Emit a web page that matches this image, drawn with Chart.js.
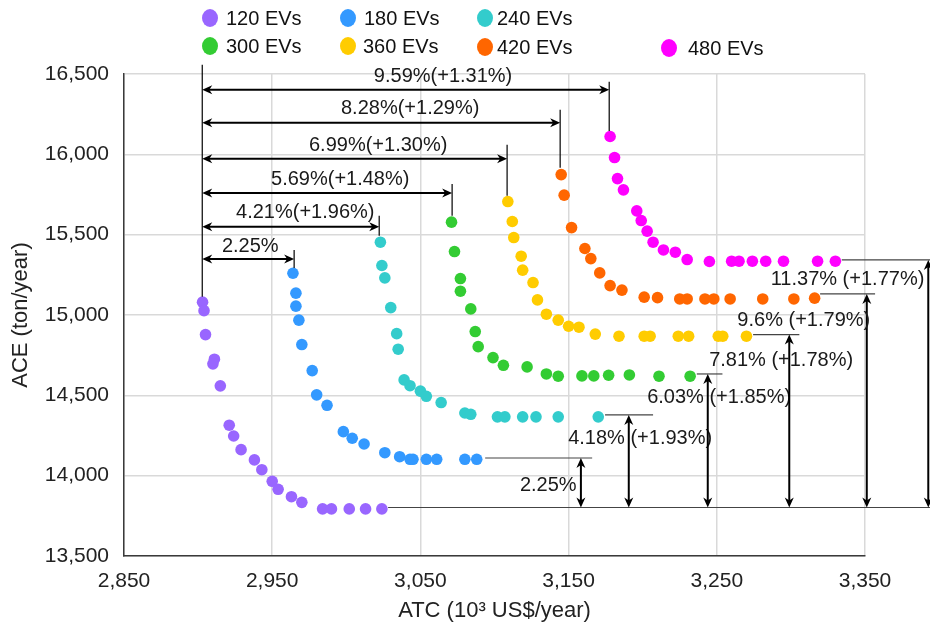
<!DOCTYPE html>
<html><head><meta charset="utf-8">
<script src="https://cdn.jsdelivr.net/npm/chart.js@4.4.1/dist/chart.umd.min.js"></script>
<style>html,body{margin:0;padding:0;background:#fff}#wrap{width:930px;height:627px;position:relative}</style>
</head><body><div id="wrap"><canvas id="c" width="930" height="627"></canvas></div>
<script>
// ---------- data ----------
const seriesLabels = ['120 EVs','180 EVs','240 EVs','300 EVs','360 EVs','420 EVs','480 EVs'];
const seriesColors = ['#9966FF','#3399FF','#33CCCC','#33CC33','#FFCC00','#FF6600','#FF00FF'];

const x120 = [2903,2904,2905,2911,2910,2915,2921,2924,2929,2938,2943,2950,2954,2963,2970,2984,2990,3002,3013,3024];
const y120 = [15080,15027,14878,14725,14696,14559,14314,14247,14162,14098,14037,13965,13915,13869,13834,13793,13793,13793,13793,13793];

const x180 = [2964,2966,2966,2968,2970,2977,2980,2987,2998,3004,3012,3026,3036,3043,3045,3054,3061,3080,3088];
const y180 = [15260,15136,15055,14968,14816,14654,14503,14438,14274,14233,14197,14143,14118,14102,14102,14102,14102,14102,14102];

const x240 = [3023,3024,3026,3030,3034,3035,3039,3043,3050,3054,3064,3080,3084,3102,3107,3119,3128,3143,3170];
const y240 = [15453,15308,15231,15046,14884,14787,14596,14560,14526,14494,14455,14390,14382,14366,14366,14366,14366,14366,14366];

const x300 = [3071,3073,3077,3077,3084,3087,3089,3099,3106,3122,3135,3143,3159,3167,3177,3191,3211,3232];
const y300 = [15578,15395,15227,15148,15038,14897,14803,14735,14687,14677,14633,14619,14621,14621,14625,14627,14619,14619];

const x360 = [3109,3112,3113,3118,3119,3126,3129,3135,3143,3150,3157,3168,3184,3201,3205,3224,3231,3251,3254,3270];
const y360 = [15706,15582,15482,15366,15279,15202,15094,15005,14968,14930,14924,14881,14868,14868,14868,14868,14868,14868,14868,14868];

const x420 = [3145,3147,3152,3161,3165,3171,3178,3186,3201,3210,3225,3230,3242,3248,3259,3281,3302,3316];
const y420 = [15874,15746,15544,15414,15351,15262,15183,15155,15111,15108,15100,15100,15100,15100,15100,15100,15100,15105];

const x480 = [3178,3181,3183,3187,3196,3199,3203,3207,3214,3222,3230,3245,3260,3265,3274,3283,3295,3318,3330];
const y480 = [16111,15980,15849,15779,15648,15588,15522,15453,15405,15391,15345,15333,15335,15335,15335,15335,15335,15335,15335];

const xTicks = [2850,2950,3050,3150,3250,3350];
const yTicks = [13500,14000,14500,15000,15500,16000,16500];

// annotation values (data units)
const refX = 2902.8, refTop = 16557, refBottom = 15113;
const topLabels  = ['9.59%(+1.31%)','8.28%(+1.29%)','6.99%(+1.30%)','5.69%(+1.48%)','4.21%(+1.96%)','2.25%'];
const topArrowY  = [16402,16196,15972,15760,15549,15349];
const topArrowX  = [3177.4,3144.3,3108.5,3071.4,3022.2,2964.8];
const topLineTop = [16452,16277,16059,15816,15617,15405];
const topLineBot = [16146,15916,15742,15617,15493,15293];
const topLabelX  = [3065.3,3043.1,3021.5,2995.9,2972.3,2935.2];
const topLabelY  = [16483,16284,16053,15841,15636,15424];

const baseY = 13802, baseFrom = 3028.2, baseTo = 3394;
const rightLabels   = ['2.25%','4.18% (+1.93%)','6.03% (+1.85%)','7.81% (+1.78%)','9.6% (+1.79%)','11.37% (+1.77%)'];
const rightArrowX   = [3158.3,3190.6,3243.9,3298.9,3351.2,3392.7];
const rightArrowY   = [14110,14378,14633,14878,15131,15343];
const rightConnFrom = [3093.7,3174.6,3236.5,3274.5,3319.7,3334.3];
const rightConnTo   = [3165.9,3207.0,3253.8,3305.7,3356.8,3394];
const rightLabelX   = [3136.3,3198.3,3251.6,3293.4,3308.7,3338.2];
const rightLabelY   = [13942,14229,14484,14720,14963,15219];

const allX = [x120,x180,x240,x300,x360,x420,x480];
const allY = [y120,y180,y240,y300,y360,y420,y480];

// ---------- chart ----------
const FONT = '"Liberation Sans", Arial, sans-serif';
const fmt = v => Number(v).toLocaleString('en-US');

function head(ctx, x, y, dir, L, W) {
  ctx.beginPath();
  if (dir === 'left')  { ctx.moveTo(x, y); ctx.lineTo(x + L, y - W); ctx.lineTo(x + L - 3, y); ctx.lineTo(x + L, y + W); }
  if (dir === 'right') { ctx.moveTo(x, y); ctx.lineTo(x - L, y - W); ctx.lineTo(x - L + 3, y); ctx.lineTo(x - L, y + W); }
  if (dir === 'up')    { ctx.moveTo(x, y); ctx.lineTo(x - W, y + L); ctx.lineTo(x, y + L - 3); ctx.lineTo(x + W, y + L); }
  if (dir === 'down')  { ctx.moveTo(x, y); ctx.lineTo(x - W, y - L); ctx.lineTo(x, y - L + 3); ctx.lineTo(x + W, y - L); }
  ctx.closePath(); ctx.fill();
}
function line(ctx, x1, y1, x2, y2) { ctx.beginPath(); ctx.moveTo(x1, y1); ctx.lineTo(x2, y2); ctx.stroke(); }

const annotPlugin = {
  id: 'annot',
  afterDraw(chart) {
    const ctx = chart.ctx, xs = chart.scales.x, ys = chart.scales.y;
    const X = v => xs.getPixelForValue(v), Y = v => ys.getPixelForValue(v);
    ctx.save();
    ctx.strokeStyle = '#000'; ctx.fillStyle = '#000';
    ctx.lineWidth = 1.2;
    line(ctx, X(refX), Y(refTop), X(refX), Y(refBottom));
    ctx.font = '20px ' + FONT; ctx.textAlign = 'center'; ctx.textBaseline = 'middle';
    for (let i = 0; i < topLabels.length; i++) {
      const xr = X(topArrowX[i]), yy = Y(topArrowY[i]);
      ctx.lineWidth = 1.2;
      line(ctx, xr, Y(topLineTop[i]), xr, Y(topLineBot[i]));
      ctx.lineWidth = 2;
      line(ctx, X(refX) + 4, yy, xr - 4, yy);
      head(ctx, X(refX), yy, 'left', 10, 4.5);
      head(ctx, xr, yy, 'right', 10, 4.5);
      ctx.fillStyle = '#1a1a1a';
      ctx.fillText(topLabels[i], X(topLabelX[i]), Y(topLabelY[i]));
      ctx.fillStyle = '#000';
    }
    ctx.strokeStyle = '#444'; ctx.lineWidth = 1.2;
    line(ctx, X(baseFrom), Y(baseY), X(baseTo), Y(baseY));
    for (let i = 0; i < rightLabels.length; i++) {
      const xa = X(rightArrowX[i]), yt = Y(rightArrowY[i]), yb = Y(baseY);
      ctx.strokeStyle = '#444'; ctx.lineWidth = 1.2;
      line(ctx, X(rightConnFrom[i]), yt, X(rightConnTo[i]), yt);
      ctx.strokeStyle = '#000'; ctx.lineWidth = 2;
      line(ctx, xa, yt + 4, xa, yb - 4);
      head(ctx, xa, yt, 'up', 10, 4.5);
      head(ctx, xa, yb, 'down', 10, 4.5);
      ctx.fillStyle = '#1a1a1a';
      ctx.fillText(rightLabels[i], X(rightLabelX[i]), Y(rightLabelY[i]));
      ctx.fillStyle = '#000';
    }
    ctx.restore();
  }
};

const legendPos = [[210,18,226],[348,18,364],[485,18,497],[210,46,226],[348,46,363],[485,47,497],[669,48,688]];
const legendPlugin = {
  id: 'customLegend',
  afterDraw(chart) {
    const ctx = chart.ctx;
    ctx.save();
    ctx.font = '20px ' + FONT; ctx.textBaseline = 'middle'; ctx.textAlign = 'left';
    chart.data.datasets.forEach((ds, i) => {
      const [cx, cy, tx] = legendPos[i];
      ctx.fillStyle = ds.backgroundColor;
      ctx.beginPath(); ctx.ellipse(cx, cy, 8, 9, 0, 0, Math.PI * 2); ctx.fill();
      ctx.fillStyle = '#111';
      ctx.fillText(ds.label, tx, cy + 1);
    });
    ctx.restore();
  }
};

const datasets = seriesLabels.map((lab, i) => ({
  label: lab,
  data: allX[i].map((x, j) => ({ x: x, y: allY[i][j] })),
  backgroundColor: seriesColors[i],
  borderColor: seriesColors[i],
  borderWidth: 0,
  pointRadius: 5.8,
  showLine: false
}));

new Chart(document.getElementById('c'), {
  type: 'scatter',
  data: { datasets },
  options: {
    responsive: false,
    animation: false,
    devicePixelRatio: 1,
    layout: { padding: { top: 74, right: 65, left: 0, bottom: 0 } },
    plugins: { legend: { display: false }, tooltip: { enabled: false } },
    scales: {
      x: {
        type: 'linear', min: xTicks[0], max: xTicks[xTicks.length - 1],
        afterBuildTicks: s => { s.ticks = xTicks.map(v => ({ value: v })); },
        afterFit: s => { s.height = 71; },
        grid: { color: '#d9d9d9', lineWidth: 1.5, drawTicks: false },
        border: { color: '#3a3a3a', width: 1.5 },
        ticks: { font: { family: FONT, size: 21 }, color: '#222', padding: 13, callback: v => fmt(v), maxRotation: 0 },
        title: { display: true, text: 'ATC (10³ US$/year)', font: { family: FONT, size: 22 }, color: '#222', padding: { top: 0, bottom: 3 } }
      },
      y: {
        type: 'linear', min: yTicks[0], max: yTicks[yTicks.length - 1],
        afterBuildTicks: s => { s.ticks = yTicks.map(v => ({ value: v })); },
        afterFit: s => { s.width = 124; },
        grid: { color: '#d9d9d9', lineWidth: 1.5, drawTicks: false },
        border: { color: '#3a3a3a', width: 1.5 },
        ticks: { font: { family: FONT, size: 21 }, color: '#222', padding: 15, callback: v => fmt(v) },
        title: { display: true, text: 'ACE (ton/year)', font: { family: FONT, size: 22 }, color: '#222', padding: { top: 8, bottom: 0 } }
      }
    }
  },
  plugins: [annotPlugin, legendPlugin]
});
</script></body></html>
